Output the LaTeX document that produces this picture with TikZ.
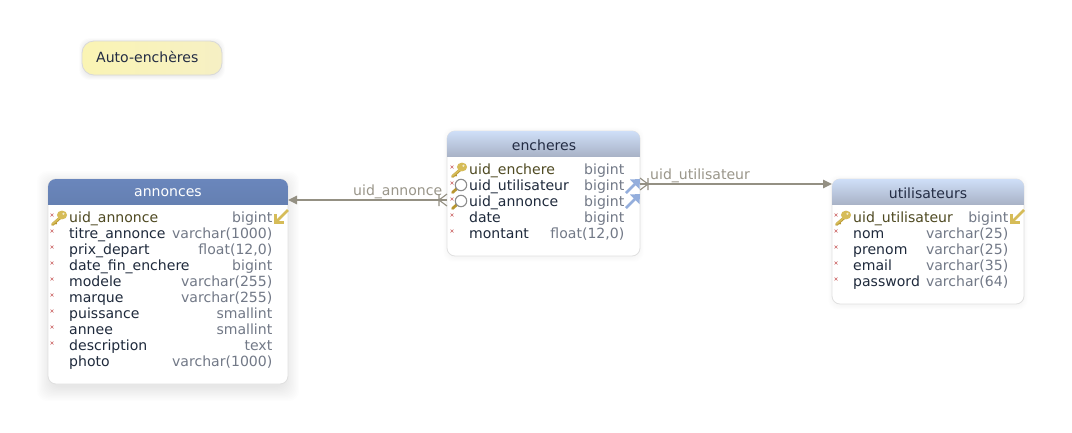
\documentclass[tikz,border=0pt]{standalone}
\usepackage{fontspec}
\setmainfont{DejaVu Sans}
\usetikzlibrary{arrows.meta,calc}
\definecolor{linkc}{HTML}{949083}
\definecolor{labelc}{HTML}{9A968A}
\definecolor{namec}{HTML}{1F2A3C}
\definecolor{typec}{HTML}{727987}
\definecolor{pkc}{HTML}{4F4A22}
\definecolor{titlec}{HTML}{232C44}
\definecolor{edgec}{HTML}{E0E0E0}
\definecolor{goldc}{HTML}{D6BC58}
\definecolor{golddk}{HTML}{B8962F}
\definecolor{bluec}{HTML}{94AEDC}
\definecolor{redc}{HTML}{CC6666}
\definecolor{headtop}{HTML}{CFDFF8}
\definecolor{headbot}{HTML}{A9B3C7}
\definecolor{seltop}{HTML}{6A86BC}
\definecolor{selbot}{HTML}{6580B2}
\definecolor{noteA}{HTML}{FAF4B4}
\definecolor{noteB}{HTML}{F6F0C4}
\newcommand{\fs}{\fontsize{14.05}{16}\selectfont}
\tikzset{
  x=1pt,y=-1pt,
  tablebox/.style={draw=edgec,line width=0.8pt,fill=white,rounded corners=8pt,inner sep=0pt,outer sep=0pt,minimum width=#1},
  rowname/.style={anchor=base west,inner sep=0pt,text=namec,font=\fs},
  pkname/.style={rowname,text=pkc},
  rowtype/.style={anchor=base east,inner sep=0pt,text=typec,font=\fs},
  tabletitle/.style={inner sep=0pt,font=\fs},
  linklabel/.style={inner sep=0pt,text=labelc,font=\fs,anchor=base west},
  link/.style={draw=linkc,line width=1.6pt},
  linkfoot/.style={draw=linkc,line width=1.1pt},
  linktip/.style={-{Triangle[length=9pt,width=8.5pt,fill=linkc]}},
}
\newcommand{\tblrow}[7]{%
  \node[#7] (#1n) at (#2,#4+5) {#5};
  \node[rowtype] (#1t) at (#3,#4+5) {#6};
}
\newcommand{\req}[2]{%
  \draw[redc,line width=0.5pt] (#1-1.5,#2-1.5) -- (#1+1.5,#2+1.5) (#1-1.5,#2+1.5) -- (#1+1.5,#2-1.5);
}
\newcommand{\pkkey}[2]{%
  \begin{scope}[shift={(#1,#2)}]
    \draw[golddk,line width=2.8pt,line cap=round] (-6.5,6.5) -- (2,-1);
    \draw[golddk,line width=1.6pt] (-5,3.5) -- (-2.5,6);
    \fill[goldc] (3,-3) ellipse[x radius=5.1,y radius=4.4];
    \draw[goldc,line width=1.8pt,line cap=round] (-6.5,6) -- (2,-1.5);
    \fill[white!70!goldc] (4.4,-4.2) circle[radius=1.2];
  \end{scope}
}
\newcommand{\lens}[2]{%
  \begin{scope}[shift={(#1,#2)}]
    \draw[golddk,line width=2.8pt,line cap=round] (-6.5,6.5) -- (-2,2.5);
    \draw[black!45,fill=white,line width=1.1pt] (2,-1) circle[radius=5.7];
  \end{scope}
}
\newcommand{\refout}[2]{%
  \begin{scope}[shift={(#1,#2)}]
    \draw[goldc,line width=2.6pt] (7,-7) -- (-5,5);
    \draw[goldc,line width=2.6pt] (-5.5,-3) -- (-5.5,5.5) -- (3,5.5);
  \end{scope}
}
\newcommand{\refin}[2]{%
  \begin{scope}[shift={(#1,#2)}]
    \draw[bluec,line width=2.6pt] (-7,7) -- (4,-4);
    \fill[bluec] (7,-7) -- (-3,-6.5) -- (6.5,3) -- cycle;
  \end{scope}
}
\newcommand{\softshadow}[6]{%
  \foreach \s in {1,...,12}{
    \fill[black,opacity=#6,rounded corners=10pt]
      (#1-#5*\s/12,#2-#5*\s/12) rectangle (#3+#5*\s/12,#4+#5*\s/12);
  }
}
\newcommand{\tblhead}[6]{%
  \begin{scope}
    \clip[rounded corners=8pt] (#1,#2) rectangle (#3,#4+20);
    \shade[top color=#5,bottom color=#6] (#1,#2) rectangle (#3,#4);
  \end{scope}
}
\begin{document}
\begin{tikzpicture}
\useasboundingbox (0,0) rectangle (1072,432);
\fill[white] (0,0) rectangle (1072,432);

% shadows
\softshadow{52}{186}{284}{386}{15}{0.009}
\softshadow{450}{134}{637}{255}{7}{0.004}
\softshadow{835}{182}{1021}{303}{7}{0.004}
\softshadow{85}{44}{219}{74}{6}{0.006}

% note
\node[draw=black!15,line width=0.8pt,rounded corners=12pt,left color=noteA,right color=noteB,
      minimum width=140pt,minimum height=34pt,inner sep=0pt] (note) at (152,58) {};
\node[inner sep=0pt,anchor=base west,text=titlec,font=\fs] (notetext) at (96,62) {Auto-enchères};

% tables
\node[tablebox=240pt,minimum height=205pt] (annonces) at (168,281.5) {};
\node[tablebox=193pt,minimum height=125pt] (encheres) at (543.5,193.5) {};
\node[tablebox=192pt,minimum height=125pt] (utilisateurs) at (928,241.5) {};

% title bars
\tblhead{48}{179}{288}{204}{seltop}{selbot}
\tblhead{447}{131}{640}{156}{headtop}{headbot}
\tblhead{832}{179}{1024}{204}{headtop}{headbot}
\node[tabletitle,text=white] (annoncestitle) at (168,193) {annonces};
\node[tabletitle,text=titlec] (encherestitle) at (544,145) {encheres};
\node[tabletitle,text=titlec] (utilisateurstitle) at (928,193) {utilisateurs};

% annonces rows
\tblrow{a1}{69}{272.5}{217}{uid\_annonce}{bigint}{pkname}
\tblrow{a2}{69}{272.5}{233}{titre\_annonce}{varchar(1000)}{rowname}
\tblrow{a3}{69}{272.5}{249}{prix\_depart}{float(12,0)}{rowname}
\tblrow{a4}{69}{272.5}{265}{date\_fin\_enchere}{bigint}{rowname}
\tblrow{a5}{69}{272.5}{281}{modele}{varchar(255)}{rowname}
\tblrow{a6}{69}{272.5}{297}{marque}{varchar(255)}{rowname}
\tblrow{a7}{69}{272.5}{313}{puissance}{smallint}{rowname}
\tblrow{a8}{69}{272.5}{329}{annee}{smallint}{rowname}
\tblrow{a9}{69}{272.5}{345}{description}{text}{rowname}
\tblrow{a10}{69}{272.5}{361}{photo}{varchar(1000)}{rowname}
\foreach \y in {215,231,247,263,279,295,311,327,343}{\req{52}{\y}}
\pkkey{59}{218}
\refout{281}{217}

% encheres rows
\tblrow{e1}{469}{624.5}{169}{uid\_enchere}{bigint}{pkname}
\tblrow{e2}{469}{624.5}{185}{uid\_utilisateur}{bigint}{rowname}
\tblrow{e3}{469}{624.5}{201}{uid\_annonce}{bigint}{rowname}
\tblrow{e4}{469}{624.5}{217}{date}{bigint}{rowname}
\tblrow{e5}{469}{624.5}{233}{montant}{float(12,0)}{rowname}
\foreach \y in {167,183,199,215,231}{\req{452}{\y}}
\pkkey{459}{170}
\lens{459}{186}
\lens{459}{202}
\refin{633}{186}
\refin{633}{201}

% utilisateurs rows
\tblrow{u1}{853}{1008.5}{217}{uid\_utilisateur}{bigint}{pkname}
\tblrow{u2}{853}{1008.5}{233}{nom}{varchar(25)}{rowname}
\tblrow{u3}{853}{1008.5}{249}{prenom}{varchar(25)}{rowname}
\tblrow{u4}{853}{1008.5}{265}{email}{varchar(35)}{rowname}
\tblrow{u5}{853}{1008.5}{281}{password}{varchar(64)}{rowname}
\foreach \y in {215,231,247,263,279}{\req{836}{\y}}
\pkkey{843}{218}
\refout{1017}{217}

% connectors
\coordinate (annport) at (annonces.east |- 0,200);
\coordinate (encportw) at (encheres.west |- 0,200);
\coordinate (encporte) at (encheres.east |- 0,184);
\coordinate (utiport) at (utilisateurs.west |- 0,184);
\draw[link,linktip] (encportw) -- (annport);
\draw[link,linktip] (encporte) -- (utiport);
\draw[linkfoot] ($(encportw)+(-8,-6)$) -- ($(encportw)+(-8,6)$)
  ($(encportw)+(0,-6)$) -- ($(encportw)+(-8,0)$) -- ($(encportw)+(0,6)$);
\draw[linkfoot] ($(encporte)+(8,-6)$) -- ($(encporte)+(8,6)$)
  ($(encporte)+(0,-6)$) -- ($(encporte)+(8,0)$) -- ($(encporte)+(0,6)$);
\node[linklabel] (lblann) at (353,195) {uid\_annonce};
\node[linklabel] (lbluti) at (650,179) {uid\_utilisateur};
\end{tikzpicture}
\end{document}
